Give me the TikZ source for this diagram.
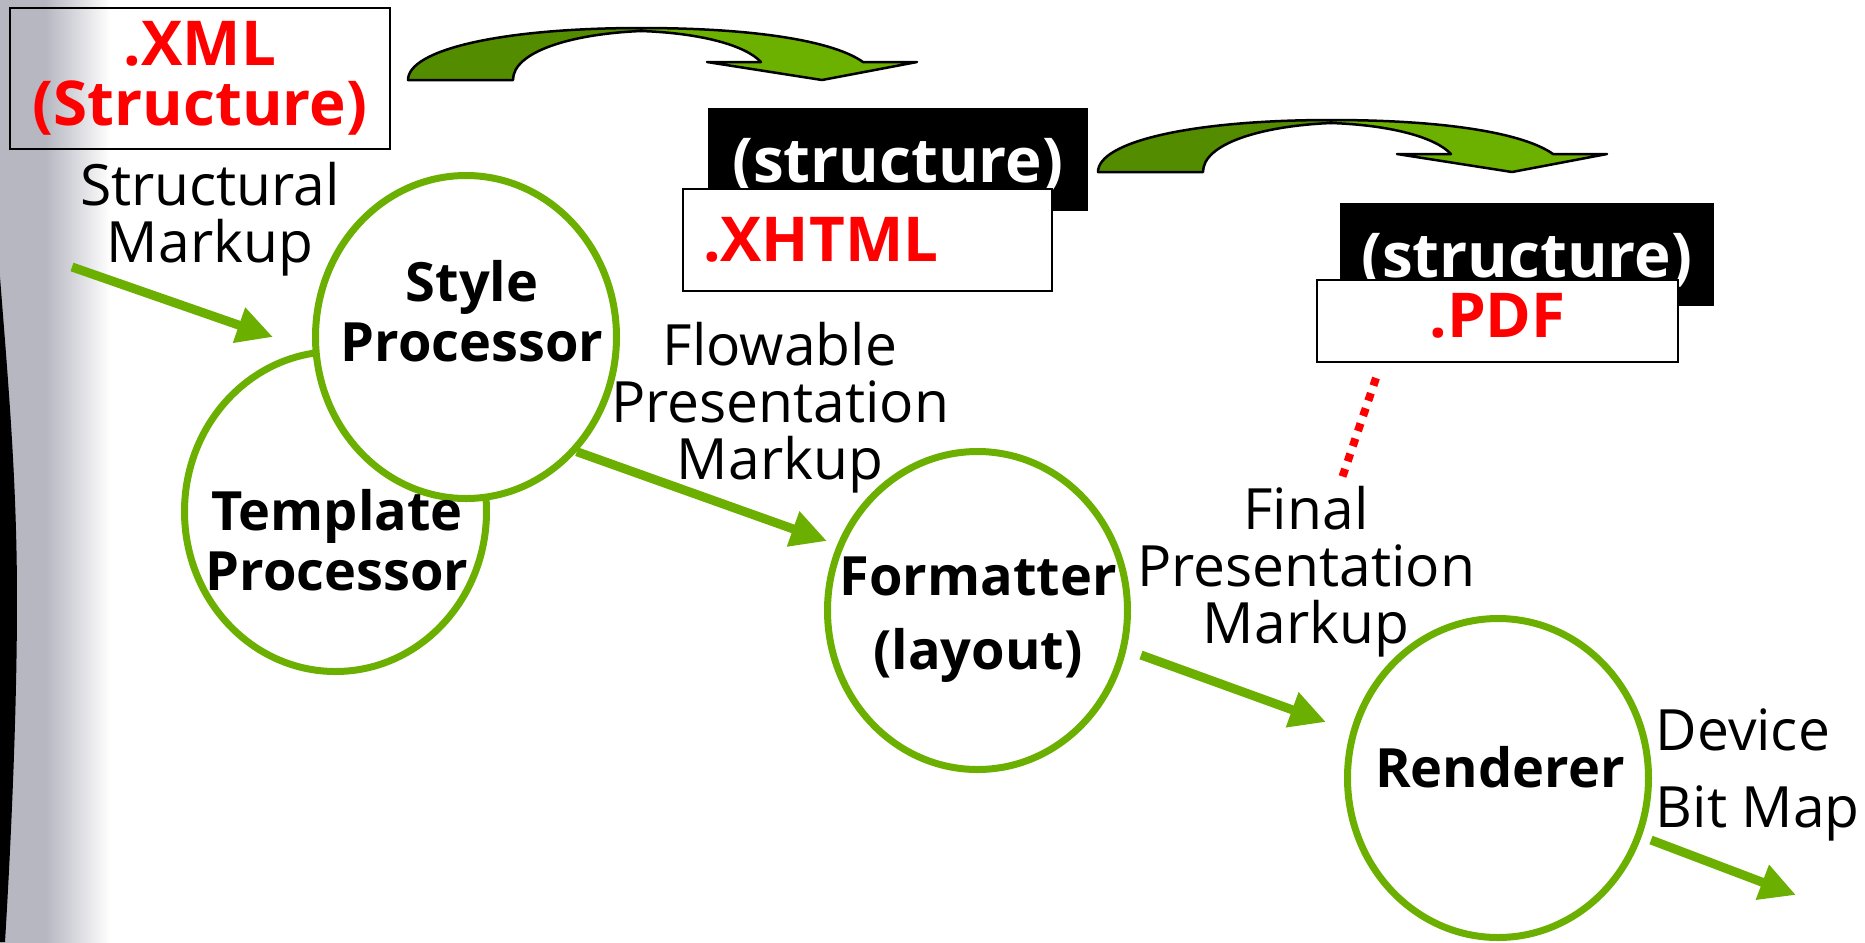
\documentclass[tikz,border=0pt]{standalone}
\usepackage{fontspec}
\setmainfont{Open Sans}
\usetikzlibrary{arrows.meta,positioning,shapes.geometric,calc}

\definecolor{procgreen}{RGB}{107,175,0}
\definecolor{bendlight}{RGB}{108,176,0}
\definecolor{benddark}{RGB}{84,140,0}
\definecolor{edgegray}{RGB}{182,183,193}
\pgfdeclarehorizontalshading{edgefade}{100bp}{color(0bp)=(edgegray); color(43bp)=(edgegray); color(55bp)=(edgegray!55); color(69bp)=(white); color(100bp)=(white)}

\begin{document}
\begin{tikzpicture}[x=0.1mm, y=-0.1mm,
    proc/.style={ellipse, draw=procgreen, line width=0.7mm, inner sep=0pt},
    proctext/.style={align=center, inner sep=0pt, font=\fontsize{15.4pt}{17.1pt}\selectfont\bfseries},
    note/.style={align=center, inner sep=0pt, font=\fontsize{16.2pt}{16.2pt}\selectfont},
    flow/.style={-{Triangle[length=3.6mm, width=3.5mm]}, draw=procgreen, line width=0.9mm},
    srcbox/.style={draw, line width=0.2mm, minimum width=38mm, minimum height=14.1mm, align=center, text=red, font=\fontsize{17.6pt}{17.1pt}\selectfont\bfseries},
    tagbox/.style={fill=black, text=white, inner sep=0pt, text height=7.5mm, text depth=2.8mm, anchor=north west, font=\fontsize{17.6pt}{17.1pt}\selectfont\bfseries},
    docbox/.style={draw, fill=white, line width=0.2mm, text=red, inner sep=0pt, anchor=north west, font=\fontsize{17.6pt}{17.1pt}\selectfont\bfseries},
    bendarrow/.style={draw=black, line width=0.25mm, line join=round}
]
\useasboundingbox (0,0) rectangle (1865,942);

% Left edge
\shade[shading=edgefade] (0,0) rectangle (125,942);
\fill[black] (0,277) .. controls (8,380) and (17,480) .. (17,600) .. controls (17,720) and (10,860) .. (5,942) -- (0,942) -- cycle;

% Bend arrows
\foreach \dx/\dy in {0/0, 690/92} {
  \begin{scope}[shift={(\dx,\dy)}]
    \filldraw[bendarrow, fill=bendlight] (641,28) .. controls (760,28) and (835,42) .. (863,62) -- (917,62) -- (822,80) -- (707,62) -- (761,62) .. controls (745,45) and (700,33) .. (641,31) -- cycle;
    \filldraw[bendarrow, fill=benddark] (408,80) .. controls (408,50) and (500,28) .. (641,28) -- (641,31) .. controls (570,34) and (513,52) .. (513,80) -- cycle;
  \end{scope}
}

% Documents
\node[srcbox] (xml) at (200,78.5) {.XML\\(Structure)};
\node[tagbox, minimum width=38mm] (xhtmltag) at (707,107) {(structure)};
\node[docbox, text width=32.9mm, inner xsep=2mm, text height=7.2mm, text depth=3mm, align=left] (xhtml) at (682,188) {.XHTML};
\node[tagbox, minimum width=37.4mm] (pdftag) at (1339,202) {(structure)};
\node[docbox, minimum width=36.1mm, text height=5.7mm, text depth=2.5mm] (pdf) at (1316,279) {.PDF};

% Processors
\node[proc, minimum width=30.2mm, minimum height=32.0mm] (tmpl) at (335.5,511.5) {};
\node[proc, fill=white, minimum width=30.1mm, minimum height=32.3mm] (style) at (466,337) {};
\node[proc, minimum width=30.0mm, minimum height=31.8mm] (fmt) at (977.5,610.5) {};
\node[proc, minimum width=30.1mm, minimum height=31.9mm] (rend) at (1498,778) {};

\node[proctext] (styletxt) at (472,311.5) {Style\\Processor};
\node[proctext] (tmpltxt) at (337,540.5) {Template\\Processor};
\node[proctext] (fmttxt) at (978,619.5) {Formatter\\[1.4mm](layout)};
\node[proctext] (rendtxt) at (1500,767.5) {Renderer};

% Labels
\node[note] (structmk) at (210,219.5) {Structural\\Markup};
\node[note] (flowmk) at (780,408) {Flowable\\Presentation\\Markup};
\node[note] (finalmk) at (1306,572) {Final\\Presentation\\Markup};
\node[note, anchor=west, align=left] (bitmap) at (1655,775) {Device\\[2mm]Bit Map};

% Connectors
\coordinate (srcin) at (72,267);
\coordinate (stylein) at (273,337);
\coordinate (fmtin) at (827,541);
\coordinate (fmtout) at (1141,655);
\coordinate (rendin) at (1326,722);
\coordinate (rendout) at (1651,840);
\coordinate (devout) at (1796,895);
\draw[flow] (srcin) -- (stylein);
\draw[flow] (style.-46) -- (fmtin);
\draw[flow] (fmtout) -- (rendin);
\draw[flow] (rendout) -- (devout);

% Dotted link
\coordinate (pdfdot) at (1376,378);
\coordinate (finaldot) at (1342,478);
\draw[red, line width=0.8mm, dash pattern=on 0.8mm off 0.8mm] (pdfdot) -- (finaldot);
\end{tikzpicture}
\end{document}
